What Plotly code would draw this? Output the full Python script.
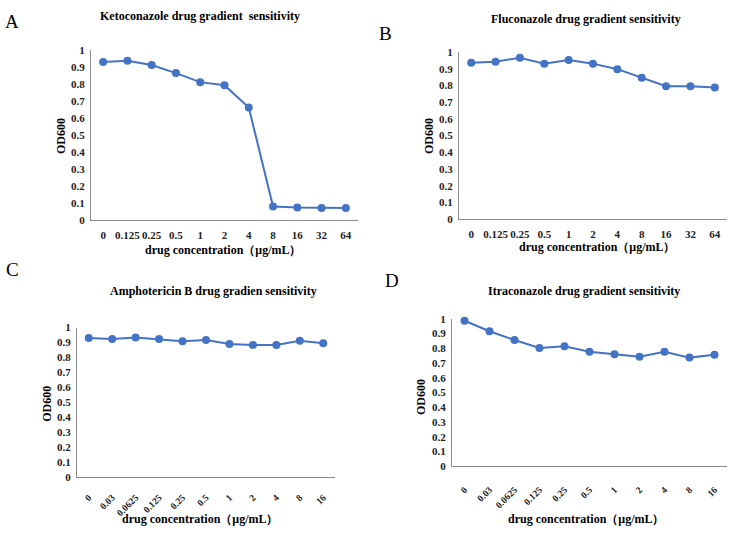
import plotly.graph_objects as go

W, H = 738, 533

conc_ab = ["0", "0.125", "0.25", "0.5", "1", "2", "4", "8", "16", "32", "64"]
conc_cd = ["0", "0.03", "0.0625", "0.125", "0.25", "0.5", "1", "2", "4", "8", "16"]

keto = [0.929, 0.937, 0.912, 0.864, 0.811, 0.793, 0.662, 0.080, 0.074, 0.071, 0.071]
fluco = [0.936, 0.942, 0.965, 0.930, 0.952, 0.930, 0.897, 0.845, 0.795, 0.795, 0.787]
ampho = [0.930, 0.923, 0.934, 0.923, 0.908, 0.917, 0.891, 0.884, 0.884, 0.912, 0.895]
itra = [0.987, 0.916, 0.856, 0.803, 0.814, 0.777, 0.759, 0.743, 0.777, 0.737, 0.757]

titles = [
    "Ketoconazole drug gradient  sensitivity",
    "Fluconazole drug gradient sensitivity",
    "Amphotericin B drug gradien sensitivity",
    "Itraconazole drug gradient sensitivity",
]
letters = ["A", "B", "C", "D"]
x_title = "drug concentration（μg/mL）"
y_title = "OD600"

BLUE = "#4472C4"
AXIS = "#8c8c8c"
FONT = "Liberation Serif"


def px_x(v):
    return v / W


def px_y(v):
    return 1 - v / H


# plot areas in pixels: (left, right, top, bottom)
boxes = [
    (91, 358, 45, 219),
    (459, 727, 47, 218),
    (77, 335, 329, 482),
    (452, 727, 320, 471),
]
series = [(conc_ab, keto), (conc_ab, fluco), (conc_cd, ampho), (conc_cd, itra)]

# annotation centres in pixels
title_pos = [(200, 10), (586, 13), (213, 292), (584, 292)]
letter_pos = [(12, 16), (386, 28), (13, 270), (392, 281)]
ytitle_pos = [(61, 133), (429, 133), (47, 407), (421, 400)]
xtitle_pos = [(223, 250), (597, 247), (200, 525), (586, 525)]
rot_ticklen = [10, 13]

tick_font = dict(family=FONT, size=11, color="#222", weight="bold")
rot_font = dict(family=FONT, size=9.5, color="#222", weight="bold")

fig = go.Figure()
layout = dict(
    width=W, height=H,
    margin=dict(l=0, r=0, t=0, b=0),
    paper_bgcolor="white", plot_bgcolor="white",
    showlegend=False,
    font=dict(family=FONT, color="black"),
)
annotations = []


def note(text, pos, size, angle=0):
    annotations.append(dict(
        text=text, x=px_x(pos[0]), y=px_y(pos[1]), textangle=angle,
        xref="paper", yref="paper", xanchor="center", yanchor="middle",
        showarrow=False, font=dict(family=FONT, size=size, color="black"),
    ))


for i, ((cats, vals), (l, r, t, b)) in enumerate(zip(series, boxes)):
    n = i + 1
    xa = "x" if n == 1 else f"x{n}"
    ya = "y" if n == 1 else f"y{n}"
    fig.add_trace(go.Scatter(
        x=cats, y=vals, xaxis=xa, yaxis=ya,
        mode="lines+markers",
        line=dict(color=BLUE, width=2),
        marker=dict(color=BLUE, size=8),
        cliponaxis=False,
    ))
    rotated = i >= 2
    layout[f"xaxis{'' if n == 1 else n}"] = dict(
        domain=[px_x(l), px_x(r)], anchor=ya,
        type="category", range=[-0.5, 10.5],
        showline=True, linecolor=AXIS, linewidth=1.3,
        showgrid=False, zeroline=False,
        ticks="outside", ticklen=rot_ticklen[i - 2] if rotated else 5,
        tickcolor="rgba(0,0,0,0)",
        tickangle=-45 if rotated else 0,
        tickfont=rot_font if rotated else tick_font,
        fixedrange=True,
    )
    layout[f"yaxis{'' if n == 1 else n}"] = dict(
        domain=[px_y(b), px_y(t)], anchor=xa,
        range=[0, 1],
        tickvals=[k / 10 for k in range(11)],
        ticktext=["0"] + [f"0.{k}" for k in range(1, 10)] + ["1"],
        showline=True, linecolor=AXIS, linewidth=1.3,
        showgrid=False, zeroline=False,
        ticks="outside", ticklen=3, tickcolor="rgba(0,0,0,0)",
        tickfont=tick_font,
        fixedrange=True,
    )

    note(f"<b>{titles[i]}</b>", title_pos[i], 12)
    note(letters[i], letter_pos[i], 19)
    note(f"<b>{y_title}</b>", ytitle_pos[i], 12, angle=-90)
    note(f"<b>{x_title}</b>", xtitle_pos[i], 12)

layout["annotations"] = annotations
fig.update_layout(**layout)
fig.write_html(
    "out.html",
    config={"displayModeBar": False},
    post_script="document.body.style.margin = '0';",
)
